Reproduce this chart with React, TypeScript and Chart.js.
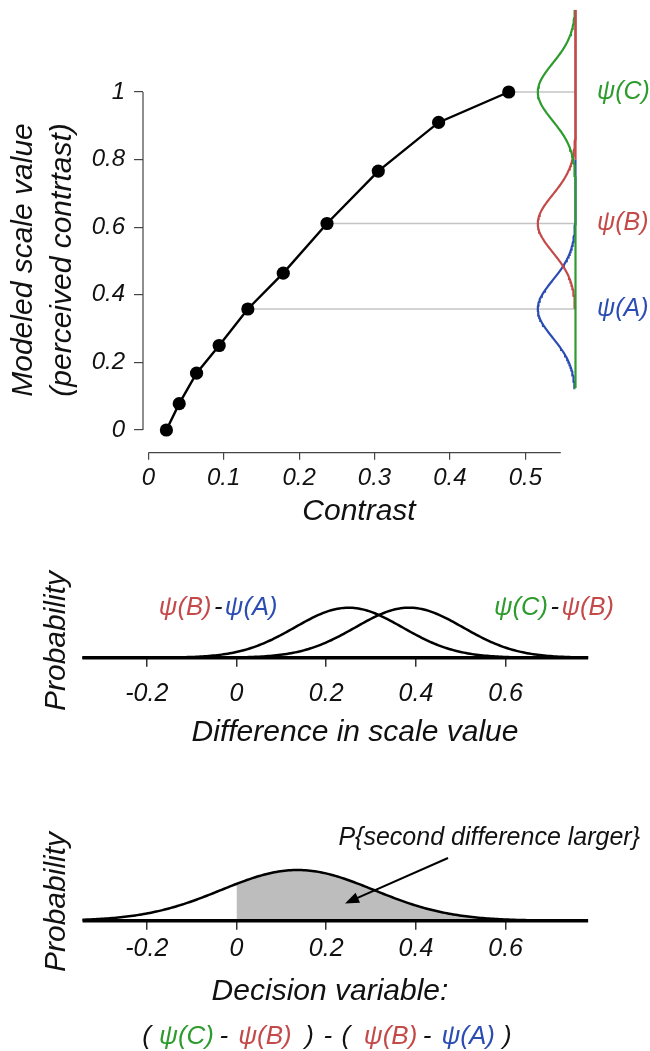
import React, { useEffect, useRef } from 'react';
import { Chart, registerables } from 'chart.js';

Chart.register(...registerables);

const FONT = "'Liberation Sans', Arial, Helvetica, sans-serif";
Chart.defaults.font.family = FONT;

// ---------------- data ----------------
const contrastLevels = [0.024, 0.041, 0.064, 0.094, 0.132, 0.179, 0.237, 0.305, 0.385, 0.478];
const modeledScaleValues = [0, 0.078, 0.168, 0.25, 0.358, 0.464, 0.611, 0.766, 0.91, 1.0];

const stimulusLabels = ['ψ(A)', 'ψ(B)', 'ψ(C)'];
const stimulusPointIndex = [4, 6, 9];
const stimulusColors = ['#2b4db3', '#c44a4a', '#2e9b2e'];
const stimulusCurveLow = [0.124, 0.358, 0.124];
const stimulusCurveHigh = [0.8, 1.243, 1.243];
const stimulusNoiseSD = 0.085;

const differenceMeans = [0.25, 0.385];
const differenceSD = 0.12;
const decisionMean = 0.136;
const decisionSD = 0.17;

const contrastTicks = [0, 0.1, 0.2, 0.3, 0.4, 0.5];
const contrastTickLabels = ['0', '0.1', '0.2', '0.3', '0.4', '0.5'];
const scaleTicks = [0, 0.2, 0.4, 0.6, 0.8, 1];
const scaleTickLabels = ['0', '0.2', '0.4', '0.6', '0.8', '1'];
const differenceTicks = [-0.2, 0, 0.2, 0.4, 0.6];
const differenceTickLabels = ['-0.2', '0', '0.2', '0.4', '0.6'];

// ---------------- helpers ----------------
const W = 650;
const SQRT2PI = Math.sqrt(2 * Math.PI);
const SIDE_BASE = 0.5666;
const SIDE_AMP = 0.05;
const RED_SEGMENT = [0.8, 1.243];
const X_AXIS_END = 0.547;
const SIDE_LABEL_X = 0.595;
const DIFF_LO = -0.3434;
const DIFF_HI = 0.784;

const gaussian = (x: number, m: number, s: number) =>
  Math.exp(-0.5 * ((x - m) / s) ** 2) / (s * SQRT2PI);

function sideCurve(mean: number, lo: number, hi: number) {
  const pts: { x: number; y: number }[] = [];
  const n = 180;
  for (let i = 0; i <= n; i++) {
    const y = lo + ((hi - lo) * i) / n;
    const z = (y - mean) / stimulusNoiseSD;
    pts.push({ x: SIDE_BASE - SIDE_AMP * Math.exp(-0.5 * z * z), y });
  }
  return pts;
}

function densityCurve(mean: number, sd: number, lo: number, hi: number) {
  const pts: { x: number; y: number }[] = [];
  const n = 240;
  for (let i = 0; i <= n; i++) {
    const x = lo + ((hi - lo) * i) / n;
    pts.push({ x, y: gaussian(x, mean, sd) });
  }
  return pts;
}

const italic = (size: number, lineHeight = 1.2) => ({
  family: FONT,
  size,
  style: 'italic' as const,
  weight: 'normal' as const,
  lineHeight,
});
const cssItalic = (size: number) => `italic ${size}px ${FONT}`;

const fixedTicks = (values: number[]) => (scale: any) => {
  scale.ticks = values.map((v) => ({ value: v }));
};

type Seg = { text: string; color: string; gap?: number };
function drawSegments(ctx: CanvasRenderingContext2D, segs: Seg[], cx: number, cy: number, size: number) {
  ctx.save();
  ctx.font = cssItalic(size);
  ctx.textBaseline = 'middle';
  ctx.textAlign = 'left';
  const widths = segs.map((s) => ctx.measureText(s.text).width);
  const total = widths.reduce((a, b) => a + b, 0) + segs.reduce((a, s) => a + (s.gap || 0), 0);
  let x = cx - total / 2;
  segs.forEach((s, i) => {
    x += s.gap || 0;
    ctx.fillStyle = s.color;
    ctx.fillText(s.text, x, cy);
    x += widths[i];
  });
  ctx.restore();
}

const BLACK = '#111';
const [BLUE, RED, GREEN] = stimulusColors;

// ---------------- top chart ----------------
function buildTop(canvas: HTMLCanvasElement) {
  const L = { h: 540, left: 143, right: 575, top: 67.3, bottom: 452.7 };
  const datasets: any[] = [];
  stimulusPointIndex.forEach((pi, k) =>
    datasets.push({
      data: [
        { x: contrastLevels[pi], y: modeledScaleValues[pi] },
        { x: SIDE_BASE, y: modeledScaleValues[pi] },
      ],
      borderColor: '#c4c4c4',
      borderWidth: 1.3,
      pointRadius: 0,
      order: 20 + k,
      clip: false,
    })
  );
  stimulusPointIndex.forEach((pi, k) =>
    datasets.push({
      data: sideCurve(modeledScaleValues[pi], stimulusCurveLow[k], stimulusCurveHigh[k]),
      borderColor: stimulusColors[k],
      borderWidth: 2.2,
      pointRadius: 0,
      order: 10 - k,
      clip: false,
    })
  );
  datasets.push({
    data: [
      { x: SIDE_BASE, y: RED_SEGMENT[0] },
      { x: SIDE_BASE, y: RED_SEGMENT[1] },
    ],
    borderColor: RED,
    borderWidth: 2.2,
    pointRadius: 0,
    order: 2,
    clip: false,
  });
  datasets.push({
    data: contrastLevels.map((c, i) => ({ x: c, y: modeledScaleValues[i] })),
    borderColor: '#000',
    borderWidth: 2.4,
    pointRadius: 6.6,
    pointBackgroundColor: '#000',
    pointBorderColor: '#000',
    pointBorderWidth: 0,
    order: 0,
    clip: false,
  });

  const decor = {
    id: 'topDecor',
    beforeDatasetsDraw(chart: any) {
      const { ctx, chartArea, scales } = chart;
      const { x, y } = scales;
      ctx.save();
      ctx.strokeStyle = '#444';
      ctx.lineWidth = 1.2;
      ctx.beginPath();
      ctx.moveTo(chartArea.left, y.getPixelForValue(0));
      ctx.lineTo(chartArea.left, y.getPixelForValue(1));
      ctx.moveTo(x.getPixelForValue(0), chartArea.bottom);
      ctx.lineTo(x.getPixelForValue(X_AXIS_END), chartArea.bottom);
      ctx.stroke();
      ctx.restore();
    },
    afterDraw(chart: any) {
      const { ctx, scales } = chart;
      const { x, y } = scales;
      ctx.save();
      ctx.font = cssItalic(25);
      ctx.textBaseline = 'middle';
      ctx.textAlign = 'left';
      stimulusLabels.forEach((t, k) => {
        ctx.fillStyle = stimulusColors[k];
        ctx.fillText(t, x.getPixelForValue(SIDE_LABEL_X), y.getPixelForValue(modeledScaleValues[stimulusPointIndex[k]]));
      });
      ctx.restore();
    },
  };

  return new Chart(canvas, {
    type: 'line',
    data: { datasets },
    options: {
      animation: false,
      responsive: false,
      events: [],
      layout: { padding: { left: 0, right: W - L.right, top: L.top, bottom: 0 } },
      elements: { line: { tension: 0 } },
      plugins: { legend: { display: false }, tooltip: { enabled: false } },
      scales: {
        x: {
          type: 'linear',
          min: -0.00703,
          max: 0.5659,
          afterBuildTicks: fixedTicks(contrastTicks),
          afterFit: (s: any) => {
            s.height = L.h - L.bottom;
          },
          grid: { display: true, drawOnChartArea: false, drawTicks: true, tickLength: 7, color: '#444', lineWidth: 1.2 },
          border: { display: false },
          ticks: {
            autoSkip: false,
            maxRotation: 0,
            minRotation: 0,
            padding: 4,
            color: BLACK,
            font: italic(24),
            callback: (_v: any, i: number) => contrastTickLabels[i],
          },
          title: { display: true, text: 'Contrast', color: BLACK, font: italic(30), padding: { top: 0, bottom: 10 } },
        },
        y: {
          type: 'linear',
          min: -0.0672,
          max: 1.0731,
          afterBuildTicks: fixedTicks(scaleTicks),
          afterFit: (s: any) => {
            s.width = L.left;
          },
          grid: { display: true, drawOnChartArea: false, drawTicks: true, tickLength: 9, color: '#444', lineWidth: 1.2 },
          border: { display: false },
          ticks: {
            autoSkip: false,
            padding: 9,
            color: BLACK,
            font: italic(24),
            callback: (_v: any, i: number) => scaleTickLabels[i],
          },
          title: {
            display: true,
            text: ['Modeled scale value', '(perceived contrtast)'],
            color: BLACK,
            font: italic(30, 1.28),
            padding: { top: 4.8, bottom: 0 },
          },
        },
      },
    } as any,
    plugins: [decor],
  });
}

// ---------------- middle chart ----------------
function buildMiddle(canvas: HTMLCanvasElement) {
  const L = { h: 230, left: 82.5, right: 627.5, top: 84.3, bottom: 117.7 };
  const peak = 1 / (differenceSD * SQRT2PI);
  const yMax = (peak * (L.bottom - L.top)) / 50;
  const datasets: any[] = [
    {
      data: [
        { x: DIFF_LO, y: 0 },
        { x: DIFF_HI, y: 0 },
      ],
      borderColor: '#000',
      borderWidth: 3.4,
      pointRadius: 0,
      order: 0,
      clip: false,
    },
    ...differenceMeans.map((m) => ({
      data: densityCurve(m, differenceSD, DIFF_LO, DIFF_HI),
      borderColor: '#000',
      borderWidth: 2.5,
      pointRadius: 0,
      order: 1,
      clip: false,
    })),
  ];
  const labelX = [-0.041, 0.708];
  const decor = {
    id: 'midDecor',
    afterDraw(chart: any) {
      const { ctx, scales } = chart;
      const { x, y } = scales;
      const py = y.getPixelForValue(peak);
      drawSegments(
        ctx,
        [
          { text: 'ψ(B)', color: RED },
          { text: '-', color: BLACK, gap: 2.5 },
          { text: 'ψ(A)', color: BLUE, gap: 2.5 },
        ],
        x.getPixelForValue(labelX[0]),
        py,
        25.5
      );
      drawSegments(
        ctx,
        [
          { text: 'ψ(C)', color: GREEN },
          { text: '-', color: BLACK, gap: 2.5 },
          { text: 'ψ(B)', color: RED, gap: 2.5 },
        ],
        x.getPixelForValue(labelX[1]),
        py,
        25.5
      );
    },
  };
  return new Chart(canvas, {
    type: 'line',
    data: { datasets },
    options: {
      animation: false,
      responsive: false,
      events: [],
      layout: { padding: { left: 0, right: W - L.right, top: L.top, bottom: 0 } },
      elements: { line: { tension: 0 } },
      plugins: { legend: { display: false }, tooltip: { enabled: false } },
      scales: {
        x: {
          type: 'linear',
          min: DIFF_LO,
          max: 0.8718,
          afterBuildTicks: fixedTicks(differenceTicks),
          afterFit: (s: any) => {
            s.height = L.h - L.bottom;
          },
          grid: { display: true, drawOnChartArea: false, drawTicks: true, tickLength: 9, color: '#333', lineWidth: 1.5 },
          border: { display: false },
          ticks: {
            autoSkip: false,
            maxRotation: 0,
            minRotation: 0,
            padding: 12,
            color: BLACK,
            font: italic(25),
            callback: (_v: any, i: number) => differenceTickLabels[i],
          },
          title: { display: true, text: 'Difference in scale value', color: BLACK, font: italic(30), padding: { top: 0, bottom: 19 } },
        },
        y: {
          type: 'linear',
          min: 0,
          max: yMax,
          afterFit: (s: any) => {
            s.width = L.left;
          },
          grid: { display: false },
          border: { display: false },
          ticks: { display: false },
          title: { display: true, text: 'Probability', color: BLACK, font: italic(30), padding: { top: 39, bottom: 0 } },
        },
      },
    } as any,
    plugins: [decor],
  });
}

// ---------------- bottom chart ----------------
function buildBottom(canvas: HTMLCanvasElement) {
  const L = { h: 281, left: 82.5, right: 577.5, top: 90, bottom: 150.7 };
  const peak = 1 / (decisionSD * SQRT2PI);
  const yMax = (peak * (L.bottom - L.top)) / 50.7;
  const datasets: any[] = [
    {
      data: [
        { x: DIFF_LO, y: 0 },
        { x: DIFF_HI, y: 0 },
      ],
      borderColor: '#000',
      borderWidth: 3.4,
      pointRadius: 0,
      order: 0,
      clip: false,
    },
    {
      data: densityCurve(decisionMean, decisionSD, DIFF_LO, DIFF_HI),
      borderColor: '#000',
      borderWidth: 2.5,
      pointRadius: 0,
      order: 1,
      clip: false,
    },
    {
      data: densityCurve(decisionMean, decisionSD, 0, DIFF_HI),
      borderColor: 'rgba(0,0,0,0)',
      borderWidth: 0,
      backgroundColor: '#bdbdbd',
      fill: 'origin',
      pointRadius: 0,
      order: 2,
    },
  ];
  const decor = {
    id: 'botDecor',
    afterDraw(chart: any) {
      const { ctx, scales, chartArea } = chart;
      const { x, y } = scales;
      ctx.save();
      // y-axis title
      ctx.translate(57, y.getPixelForValue(0.369 * peak));
      ctx.rotate(-Math.PI / 2);
      ctx.font = cssItalic(30);
      ctx.fillStyle = BLACK;
      ctx.textAlign = 'center';
      ctx.textBaseline = 'middle';
      ctx.fillText('Probability', 0, 0);
      ctx.restore();

      // annotation
      ctx.save();
      ctx.font = cssItalic(25);
      ctx.fillStyle = BLACK;
      ctx.textAlign = 'right';
      ctx.textBaseline = 'middle';
      ctx.fillText('P{second difference larger}', x.getPixelForValue(0.8997), y.getPixelForValue(1.631 * peak));
      // arrow
      const x1 = x.getPixelForValue(0.4716);
      const y1 = y.getPixelForValue(1.237 * peak);
      const x2 = x.getPixelForValue(0.2419);
      const y2 = y.getPixelForValue(0.34 * peak);
      const ang = Math.atan2(y2 - y1, x2 - x1);
      const head = 14;
      const half = 5.5;
      ctx.strokeStyle = '#000';
      ctx.lineWidth = 2;
      ctx.beginPath();
      ctx.moveTo(x1, y1);
      ctx.lineTo(x2 - Math.cos(ang) * head * 0.8, y2 - Math.sin(ang) * head * 0.8);
      ctx.stroke();
      ctx.fillStyle = '#000';
      ctx.beginPath();
      ctx.moveTo(x2, y2);
      ctx.lineTo(x2 - Math.cos(ang) * head - Math.sin(ang) * half, y2 - Math.sin(ang) * head + Math.cos(ang) * half);
      ctx.lineTo(x2 - Math.cos(ang) * head + Math.sin(ang) * half, y2 - Math.sin(ang) * head - Math.cos(ang) * half);
      ctx.closePath();
      ctx.fill();
      ctx.restore();

      // formula under the axis title
      drawSegments(
        ctx,
        [
          { text: '(', color: BLACK },
          { text: 'ψ(C)', color: GREEN, gap: 8 },
          { text: '-', color: BLACK, gap: 5.5 },
          { text: 'ψ(B)', color: RED, gap: 10 },
          { text: ')', color: BLACK, gap: 13.5 },
          { text: '-', color: BLACK, gap: 9.5 },
          { text: '(', color: BLACK, gap: 9.5 },
          { text: 'ψ(B)', color: RED, gap: 13.5 },
          { text: '-', color: BLACK, gap: 5.5 },
          { text: 'ψ(A)', color: BLUE, gap: 10 },
          { text: ')', color: BLACK, gap: 8 },
        ],
        x.getPixelForValue(0.2018),
        chartArea.bottom + 116,
        26
      );
    },
  };
  return new Chart(canvas, {
    type: 'line',
    data: { datasets },
    options: {
      animation: false,
      responsive: false,
      events: [],
      layout: { padding: { left: 0, right: W - L.right, top: L.top, bottom: 0 } },
      elements: { line: { tension: 0 } },
      plugins: { legend: { display: false }, tooltip: { enabled: false }, filler: { propagate: false } },
      scales: {
        x: {
          type: 'linear',
          min: DIFF_LO,
          max: 0.7603,
          afterBuildTicks: fixedTicks(differenceTicks),
          afterFit: (s: any) => {
            s.height = L.h - L.bottom;
          },
          grid: { display: true, drawOnChartArea: false, drawTicks: true, tickLength: 9, color: '#333', lineWidth: 1.5 },
          border: { display: false },
          ticks: {
            autoSkip: false,
            maxRotation: 0,
            minRotation: 0,
            padding: 4.3,
            color: BLACK,
            font: italic(25),
            callback: (_v: any, i: number) => differenceTickLabels[i],
          },
          title: { display: true, text: 'Decision variable:', color: BLACK, font: italic(30), padding: { top: 0, bottom: 41.3 } },
        },
        y: {
          type: 'linear',
          min: 0,
          max: yMax,
          afterFit: (s: any) => {
            s.width = L.left;
          },
          grid: { display: false },
          border: { display: false },
          ticks: { display: false },
          title: { display: false },
        },
      },
    } as any,
    plugins: [decor],
  });
}

function ChartCanvas({ top, height, build }: { top: number; height: number; build: (c: HTMLCanvasElement) => Chart }) {
  const ref = useRef<HTMLCanvasElement>(null);
  useEffect(() => {
    if (!ref.current) return;
    const chart = build(ref.current);
    return () => chart.destroy();
  }, [build]);
  return (
    <canvas
      ref={ref}
      width={W}
      height={height}
      style={{ position: 'absolute', left: 0, top, width: W, height, display: 'block' }}
    />
  );
}

export default function App() {
  return (
    <div style={{ position: 'absolute', left: 0, top: 0, width: W, height: 1051, background: '#fff', overflow: 'hidden' }}>
      <ChartCanvas top={0} height={540} build={buildTop} />
      <ChartCanvas top={540} height={230} build={buildMiddle} />
      <ChartCanvas top={770} height={281} build={buildBottom} />
    </div>
  );
}
